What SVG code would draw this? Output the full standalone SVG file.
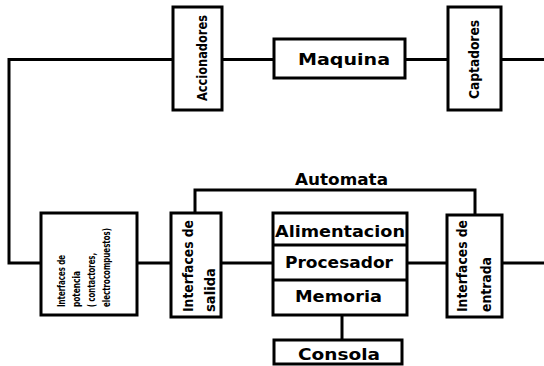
<svg xmlns="http://www.w3.org/2000/svg" width="544" height="366" viewBox="0 0 544 366">
<style>
.box{fill:#fff;stroke:#000;stroke-width:3}
.w{fill:none;stroke:#000;stroke-width:3;stroke-linejoin:miter}
.t{font-family:"DejaVu Sans",sans-serif;font-weight:bold;fill:#000}
.c{font-family:"DejaVu Sans Condensed","DejaVu Sans",sans-serif}
.l{font-size:16px}
.v{font-size:14px}
.s{font-size:10px}
</style>
<rect width="544" height="366" fill="#fff"/>
<g id="connectors">
<path class="w" d="M544,59.5H501M448,59.5H405M274,59.5H222M173,59.5H9V263H41"/>
<path class="w" d="M137,263H171M221,263H273M407,263H447M502,263H544"/>
<path class="w" d="M195,213V190H475V215"/>
<path class="w" d="M342,315V340"/>
</g>
<g id="accionadores">
<rect class="box" x="173" y="7" width="49" height="103"/>
<text class="t c v" transform="translate(207,101) rotate(-90)" textLength="86" lengthAdjust="spacingAndGlyphs">Accionadores</text>
</g>
<g id="maquina">
<rect class="box" x="274" y="39" width="131" height="39"/>
<text class="t l" x="298" y="65" textLength="92" lengthAdjust="spacingAndGlyphs">Maquina</text>
</g>
<g id="captadores">
<rect class="box" x="448" y="7" width="53" height="103"/>
<text class="t c v" transform="translate(479,99) rotate(-90)" textLength="79" lengthAdjust="spacingAndGlyphs">Captadores</text>
</g>
<g id="potencia">
<rect class="box" x="41" y="213" width="96" height="102"/>
<text class="t s" transform="translate(65,307) rotate(-90)" textLength="52" lengthAdjust="spacingAndGlyphs">Interfaces de</text>
<text class="t s" transform="translate(80,307) rotate(-90)" textLength="36" lengthAdjust="spacingAndGlyphs">potencia</text>
<text class="t s" transform="translate(95,307) rotate(-90)" textLength="54" lengthAdjust="spacingAndGlyphs">( contactores,</text>
<text class="t s" transform="translate(110,307) rotate(-90)" textLength="79" lengthAdjust="spacingAndGlyphs">electrocompuestos)</text>
</g>
<g id="salida">
<rect class="box" x="171" y="213" width="50" height="104"/>
<text class="t c v" transform="translate(193,312) rotate(-90)" textLength="92" lengthAdjust="spacingAndGlyphs">Interfaces de</text>
<text class="t c v" transform="translate(215,312) rotate(-90)" textLength="44" lengthAdjust="spacingAndGlyphs">salida</text>
</g>
<g id="automata">
<text class="t l" x="295" y="185" textLength="93" lengthAdjust="spacingAndGlyphs">Automata</text>
</g>
<g id="cpu">
<rect class="box" x="273" y="213" width="134" height="102"/>
<path class="w" d="M273,245H407M273,280H407"/>
<text class="t l" x="275" y="237" textLength="130" lengthAdjust="spacingAndGlyphs">Alimentacion</text>
<text class="t l" x="285" y="268" textLength="108" lengthAdjust="spacingAndGlyphs">Procesador</text>
<text class="t l" x="295" y="302" textLength="87" lengthAdjust="spacingAndGlyphs">Memoria</text>
</g>
<g id="entrada">
<rect class="box" x="447" y="215" width="55" height="102"/>
<text class="t c v" transform="translate(467,312) rotate(-90)" textLength="92" lengthAdjust="spacingAndGlyphs">Interfaces de</text>
<text class="t c v" transform="translate(491,312) rotate(-90)" textLength="55" lengthAdjust="spacingAndGlyphs">entrada</text>
</g>
<g id="consola">
<rect class="box" x="274" y="340" width="128" height="24"/>
<text class="t l" x="298" y="360" textLength="82" lengthAdjust="spacingAndGlyphs">Consola</text>
</g>
</svg>
